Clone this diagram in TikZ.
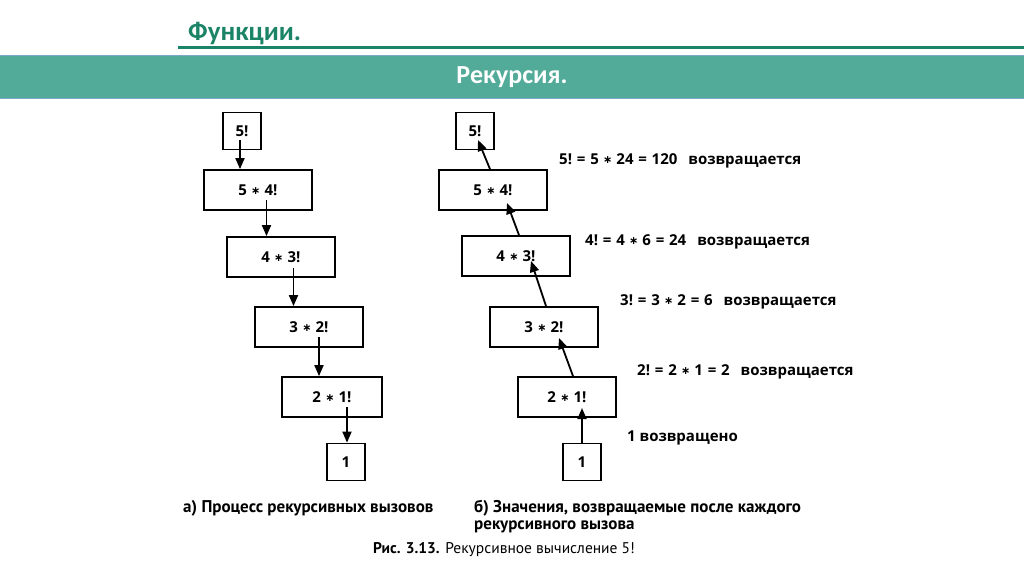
\documentclass[tikz,border=0pt]{standalone}
\usepackage{fontspec}
\setmainfont{Open Sans}
\newfontfamily\capfont{PT Sans}
\newfontfamily\headfont{Carlito}
\newfontfamily\symfont{DejaVu Sans}
\usetikzlibrary{arrows.meta, calc}
\definecolor{cgreen}{HTML}{1B8466}
\definecolor{cband}{HTML}{52AA98}
\definecolor{cedge}{HTML}{7FA8C8}
\tikzset{
  every picture/.style={font=\bfseries\fontsize{15}{18}\selectfont, line width=1.8pt},
  box/.style={draw, line width=1.8pt, minimum width=#1, minimum height=40pt, inner sep=0pt},
  box/.default=108pt,
  fbox/.style={draw, line width=1.8pt, minimum width=38pt, minimum height=37pt, inner sep=0pt},
  arrow/.style={-{Triangle[length=11pt, width=9pt]}, line width=1.8pt},
  note/.style={anchor=west},
  capt/.style={font=\capfont\bfseries\fontsize{17}{17}\selectfont},
  head/.style={font=\headfont\bfseries\fontsize{27}{30}\selectfont},
}
\newcommand{\mul}{\hspace{0.28em}\raisebox{1pt}{\symfont\bfseries\fontsize{11}{11}\selectfont ∗}\hspace{0.28em}}
\newcommand{\eq}{\hspace{0.32em}=\hspace{0.32em}}
\newcommand{\ret}{\hspace{11pt}возвращается}

\begin{document}
\begin{tikzpicture}[x=1pt, y=-1pt]
  \useasboundingbox (0,0) rectangle (1024,574);
  % header
  \node[head, text=cgreen, anchor=west] (ttl) at (184,34) {Функции.};
  \draw[cgreen, line width=3pt] (178,47) -- (1024,47);
  \fill[cband] (0,55) rectangle (1024,98);
  \draw[cedge, line width=0.8pt] (0,55) -- (1024,55) (0,98) -- (1024,98);
  \node[head, text=white, font=\headfont\bfseries\fontsize{26}{30}\selectfont] (sub) at (512,77) {Рекурсия.};
  % calls
  \node[fbox] (a5) at (242,131) {5!};
  \node[box] (a54) at (258,190) {5\mul4!};
  \node[box] (a43) at (281,257) {4\mul3!};
  \node[box] (a32) at (309,327) {3\mul2!};
  \node[box=100pt] (a21) at (332,397) {2\mul1!};
  \node[fbox] (a1) at (346,462) {1};
  \draw[arrow] ([shift={(-2,9)}]a5.center) -- ([xshift=-18pt]a54.north);
  \draw[arrow] ([shift={(8.5,10)}]a54.center) -- ([xshift=-14.5pt]a43.north);
  \draw[arrow] ([shift={(12.5,11)}]a43.center) -- ([xshift=-15.5pt]a32.north);
  \draw[arrow] ([shift={(10,10)}]a32.center) -- ([xshift=-13pt]a21.north);
  \draw[arrow] ([shift={(15,10)}]a21.center) -- ([xshift=1pt]a1.north);
  % returns
  \node[fbox] (b5) at (475,131) {5!};
  \node[box] (b54) at (493,190) {5\mul4!};
  \node[box] (b43) at (516,256) {4\mul3!};
  \node[box] (b32) at (544,327) {3\mul2!};
  \node[box=98pt] (b21) at (567,397) {2\mul1!};
  \node[fbox] (b1) at (582,462) {1};
  \draw[arrow] (b1.north) -- ([shift={(15,11)}]b21.center);
  \draw[arrow] ([xshift=6pt]b21.north) -- ([shift={(15,11)}]b32.center);
  \draw[arrow] ([xshift=2pt]b32.north) -- ([shift={(15,5)}]b43.center);
  \draw[arrow] ([xshift=3pt]b43.north) -- ([shift={(14,13)}]b54.center);
  \draw[arrow] ([xshift=-3pt]b54.north) -- ([shift={(3,9)}]b5.center);
  \node[note] (r5) at (555,161) {5!\eq5\mul24\eq120\ret};
  \node[note] (r4) at (581,242) {4!\eq4\mul6\eq24\ret};
  \node[note] (r3) at (616,302) {3!\eq3\mul2\eq6\ret};
  \node[note] (r2) at (633,372) {2!\eq2\mul1\eq2\ret};
  \node[note] (r1) at (623,438) {1 возвращено};
  % captions
  \node[note, capt] (capa) at (179,508) {а) Процесс рекурсивных вызовов};
  \node[note, capt, align=left, anchor=north west] (capb) at (470,496) {б) Значения, возвращаемые после каждого\\рекурсивного вызова};
  \node[font=\capfont\mdseries\fontsize{15.5}{18}\selectfont] (fig) at (504,550) {\textbf{Рис. 3.13.} Рекурсивное вычисление 5!};
\end{tikzpicture}
\end{document}
